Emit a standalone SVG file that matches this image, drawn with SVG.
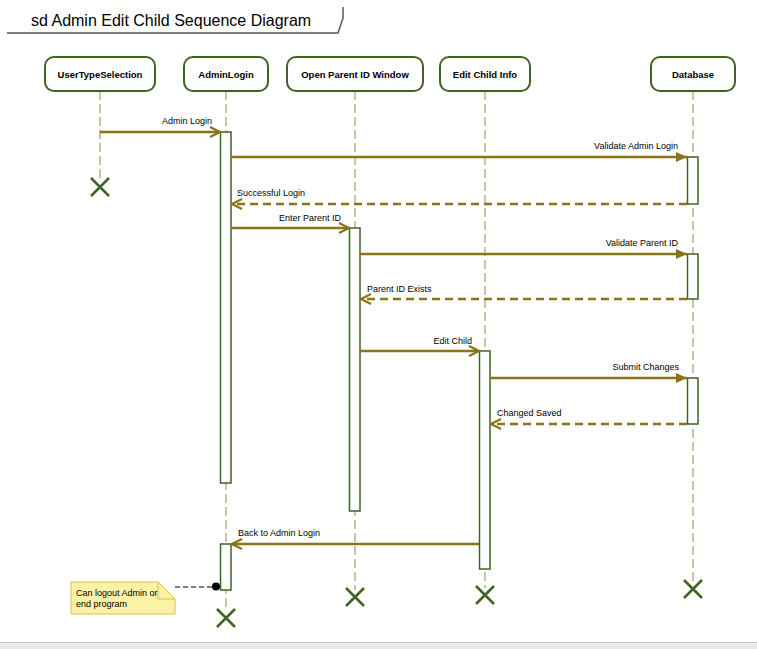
<svg xmlns="http://www.w3.org/2000/svg" width="757" height="649" viewBox="0 0 757 649">
<defs>
<style>
.box{fill:#fff;stroke:#3f6320;stroke-width:2}
.lbl{font-family:"Liberation Sans",Arial,sans-serif;font-size:9.5px;font-weight:bold;fill:#000;text-anchor:middle}
.life{stroke:#c6c6a6;stroke-width:2;stroke-dasharray:9 4;fill:none}
.act{fill:#fff;stroke:#3f6320;stroke-width:1.5}
.msg{stroke:#8a7419;stroke-width:2.5;fill:none}
.ret{stroke:#8a7419;stroke-width:2.5;fill:none;stroke-dasharray:8 5}
.mt{font-family:"Liberation Sans",Arial,sans-serif;font-size:9px;fill:#000}
.x{stroke:#3f6320;stroke-width:2.5;fill:none}
</style>
<marker id="open" viewBox="0 0 12 12" refX="11" refY="6" markerWidth="12" markerHeight="12" markerUnits="userSpaceOnUse" orient="auto">
<path d="M1,1 L11,6 L1,11" fill="none" stroke="#8a7419" stroke-width="2.2"/>
</marker>
<marker id="fill" viewBox="0 0 12 12" refX="11" refY="6" markerWidth="12" markerHeight="12" markerUnits="userSpaceOnUse" orient="auto">
<path d="M0,1 L11,6 L0,11 Z" fill="#8a7419"/>
</marker>
</defs>
<rect width="757" height="649" fill="#fff"/>
<g id="frame">
<path d="M7,33 L338,33 L343,18 L343,7" fill="none" stroke="#555" stroke-width="1.5"/>
<text x="31" y="26" font-family="Liberation Sans,Arial,sans-serif" font-size="16px" fill="#000">sd Admin Edit Child Sequence Diagram</text>
</g>
<g id="lifelines">
<line class="life" x1="100" y1="91" x2="100" y2="180"/>
<line class="life" x1="226" y1="91" x2="226" y2="610"/>
<line class="life" x1="355" y1="91" x2="355" y2="590"/>
<line class="life" x1="485" y1="91" x2="485" y2="588"/>
<line class="life" x1="693" y1="91" x2="693" y2="582"/>
</g>
<g id="UserTypeSelection">
<rect class="box" x="45" y="57" width="110" height="34" rx="9"/>
<text class="lbl" x="100" y="78">UserTypeSelection</text>
<path class="x" d="M91,178 L109,196 M109,178 L91,196"/>
</g>
<g id="AdminLogin">
<rect class="box" x="184" y="57" width="84" height="34" rx="9"/>
<text class="lbl" x="226" y="78">AdminLogin</text>
<rect class="act" x="220.5" y="132" width="10.5" height="351"/>
<rect class="act" x="220.5" y="544" width="10.5" height="46"/>
<path class="x" d="M217,609 L235,627 M235,609 L217,627"/>
</g>
<g id="OpenParentIDWindow">
<rect class="box" x="287" y="57" width="136" height="34" rx="9"/>
<text class="lbl" x="355" y="78">Open Parent ID Window</text>
<rect class="act" x="349.5" y="228" width="10.5" height="283"/>
<path class="x" d="M346,588 L364,606 M364,588 L346,606"/>
</g>
<g id="EditChildInfo">
<rect class="box" x="440" y="57" width="90" height="34" rx="9"/>
<text class="lbl" x="485" y="78">Edit Child Info</text>
<rect class="act" x="479.5" y="351" width="10.5" height="218"/>
<path class="x" d="M476,586 L494,604 M494,586 L476,604"/>
</g>
<g id="Database">
<rect class="box" x="651" y="57" width="84" height="34" rx="9"/>
<text class="lbl" x="693" y="78">Database</text>
<rect class="act" x="687.5" y="157" width="10.5" height="47"/>
<rect class="act" x="687.5" y="254" width="10.5" height="45"/>
<rect class="act" x="687.5" y="378" width="10.5" height="46"/>
<path class="x" d="M684,580 L702,598 M702,580 L684,598"/>
</g>
<g id="connectors">
<line class="msg" x1="100" y1="132" x2="220" y2="132" marker-end="url(#open)"/>
<text class="mt" x="162" y="124">Admin Login</text>
<line class="msg" x1="231" y1="157" x2="687" y2="157" marker-end="url(#fill)"/>
<text class="mt" x="678" y="149" text-anchor="end">Validate Admin Login</text>
<line class="ret" x1="687" y1="204" x2="232" y2="204" marker-end="url(#open)"/>
<text class="mt" x="237" y="196">Successful Login</text>
<line class="msg" x1="231" y1="228" x2="349" y2="228" marker-end="url(#open)"/>
<text class="mt" x="341" y="221" text-anchor="end">Enter Parent ID</text>
<line class="msg" x1="360" y1="254" x2="687" y2="254" marker-end="url(#fill)"/>
<text class="mt" x="678" y="246" text-anchor="end">Validate Parent ID</text>
<line class="ret" x1="687" y1="299" x2="361" y2="299" marker-end="url(#open)"/>
<text class="mt" x="367" y="292">Parent ID Exists</text>
<line class="msg" x1="360" y1="351" x2="479" y2="351" marker-end="url(#open)"/>
<text class="mt" x="472" y="344" text-anchor="end">Edit Child</text>
<line class="msg" x1="490" y1="378" x2="687" y2="378" marker-end="url(#fill)"/>
<text class="mt" x="679" y="370" text-anchor="end">Submit Changes</text>
<line class="ret" x1="687" y1="424" x2="491" y2="424" marker-end="url(#open)"/>
<text class="mt" x="497" y="416">Changed Saved</text>
<line class="msg" x1="479" y1="544" x2="232" y2="544" marker-end="url(#open)"/>
<text class="mt" x="238" y="536">Back to Admin Login</text>
<line x1="175" y1="587" x2="214" y2="587" stroke="#000" stroke-width="1.2" stroke-dasharray="5 3"/>
<circle cx="216" cy="586.5" r="4" fill="#000"/>
</g>
<g id="note">
<path d="M71,582 L158,582 L175,599 L175,614 L71,614 Z" fill="#fbf2a6" stroke="#d8bd58" stroke-width="1"/>
<path d="M158,582 L158,599 L175,599" fill="none" stroke="#d8bd58" stroke-width="1"/>
<text class="mt" x="76" y="596">Can logout Admin or</text>
<text class="mt" x="76" y="607">end program</text>
</g>
<g id="statusbar">
<rect x="0" y="642" width="757" height="7" fill="#e9e9e9"/>
<line x1="0" y1="642.5" x2="757" y2="642.5" stroke="#c8c8c8" stroke-width="1"/>
</g>
</svg>
